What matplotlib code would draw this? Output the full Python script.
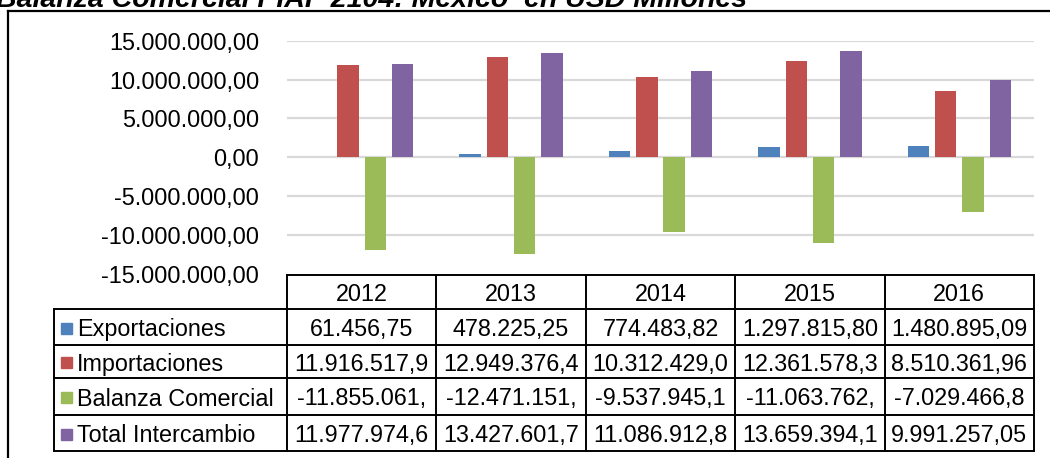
import matplotlib
matplotlib.use("Agg")
import matplotlib.pyplot as plt
from matplotlib.lines import Line2D
from matplotlib.patches import Rectangle
import numpy as np

plt.rcParams['font.family'] = ['Liberation Sans', 'DejaVu Sans']

years = ["2012", "2013", "2014", "2015", "2016"]
series_names = ["Exportaciones", "Importaciones", "Balanza Comercial", "Total Intercambio"]
exportaciones = [61456.75, 478225.25, 774483.82, 1297815.80, 1480895.09]
importaciones = [11916517.90, 12949376.40, 10312429.00, 12361578.30, 8510361.96]
balanza = [-11855061.00, -12471151.00, -9537945.10, -11063762.00, -7029466.80]
total = [11977974.60, 13427601.70, 11086912.80, 13659394.10, 9991257.05]
colors = ["#4F81BD", "#C0504D", "#9BBB59", "#8064A2"]
yticks = [-15000000, -10000000, -5000000, 0, 5000000, 10000000, 15000000]
title = "Balanza Comercial PIAP 2104: México  en USD Millones"

series = [exportaciones, importaciones, balanza, total]

W, H = 1050, 458
fig = plt.figure(figsize=(W / 100, H / 100), dpi=100)


def fx(px):
    return px / W


def fy(py):
    return 1 - py / H


def es_fmt(v, decimals=2):
    s = f"{abs(v):,.{decimals}f}"
    s = s.replace(",", "X").replace(".", ",").replace("X", ".")
    return ("-" if v < 0 else "") + s


# axes region
ax_left, ax_right = 287, 1034
ax_top, ax_bot = 40.7, 274.0
ax = fig.add_axes([fx(ax_left), fy(ax_bot), fx(ax_right - ax_left), fy(ax_top) - fy(ax_bot)])
ax.set_xlim(-0.5, len(years) - 0.5)
ax.set_ylim(-15000000, 15000000)
for s in ax.spines.values():
    s.set_visible(False)
ax.set_xticks([])
ax.set_yticks(yticks)
ax.set_yticklabels([es_fmt(t) for t in yticks], fontsize=16.8)
ax.tick_params(axis='y', length=0, pad=20)
for t in yticks[1:]:
    ax.axhline(t, color="#D9D9D9", lw=1.6, zorder=0)

step = 0.183
width = 0.143
x = np.arange(len(years))
for k, (vals, c) in enumerate(zip(series, colors)):
    ax.bar(x + (k - 1.5) * step, vals, width=width, color=c, zorder=2)

# outer frame
fig.add_artist(Line2D([fx(8), fx(8)], [fy(11), fy(H + 5)], color="black", lw=1.6))
fig.add_artist(Line2D([fx(8), fx(W + 5)], [fy(11), fy(11)], color="black", lw=1.6))

# title (top part cut off by the image edge, as in the source)
fig.text(fx(-4), fy(7), title, fontsize=20.5, fontweight="bold", fontstyle="italic",
         ha="left", va="baseline")

# data table
col_edges = [ax_left + i * (ax_right - ax_left) / len(years) for i in range(len(years) + 1)]
row_edges = [275, 309, 345, 378, 415, 451]
label_left = 54
lw = 1.4
fig.add_artist(Line2D([fx(col_edges[0]), fx(col_edges[-1])], [fy(row_edges[0]), fy(row_edges[0])], color="black", lw=lw))
for yy in row_edges[1:]:
    fig.add_artist(Line2D([fx(label_left), fx(col_edges[-1])], [fy(yy), fy(yy)], color="black", lw=lw))
for xx in col_edges:
    fig.add_artist(Line2D([fx(xx), fx(xx)], [fy(row_edges[0]), fy(row_edges[-1])], color="black", lw=lw))
fig.add_artist(Line2D([fx(label_left), fx(label_left)], [fy(row_edges[1]), fy(row_edges[-1])], color="black", lw=lw))

for j, yr in enumerate(years):
    cx = (col_edges[j] + col_edges[j + 1]) / 2
    cy = (row_edges[0] + row_edges[1]) / 2
    fig.text(fx(cx), fy(cy), yr, fontsize=16.8, ha="center", va="center_baseline")

for i, (name, vals, c) in enumerate(zip(series_names, series, colors)):
    cy = (row_edges[i + 1] + row_edges[i + 2]) / 2
    sq = 11
    fig.add_artist(Rectangle((fx(61), fy(cy + sq / 2 + 1)), fx(sq), fy(0) - fy(sq), color=c,
                             transform=fig.transFigure))
    fig.text(fx(77), fy(cy), name, fontsize=16.8, ha="left", va="center_baseline")
    for j, v in enumerate(vals):
        cx = (col_edges[j] + col_edges[j + 1]) / 2
        txt = es_fmt(v)[:12]
        fig.text(fx(cx), fy(cy), txt, fontsize=16.8, ha="center", va="center_baseline")

fig.savefig("out.png", dpi=100)
